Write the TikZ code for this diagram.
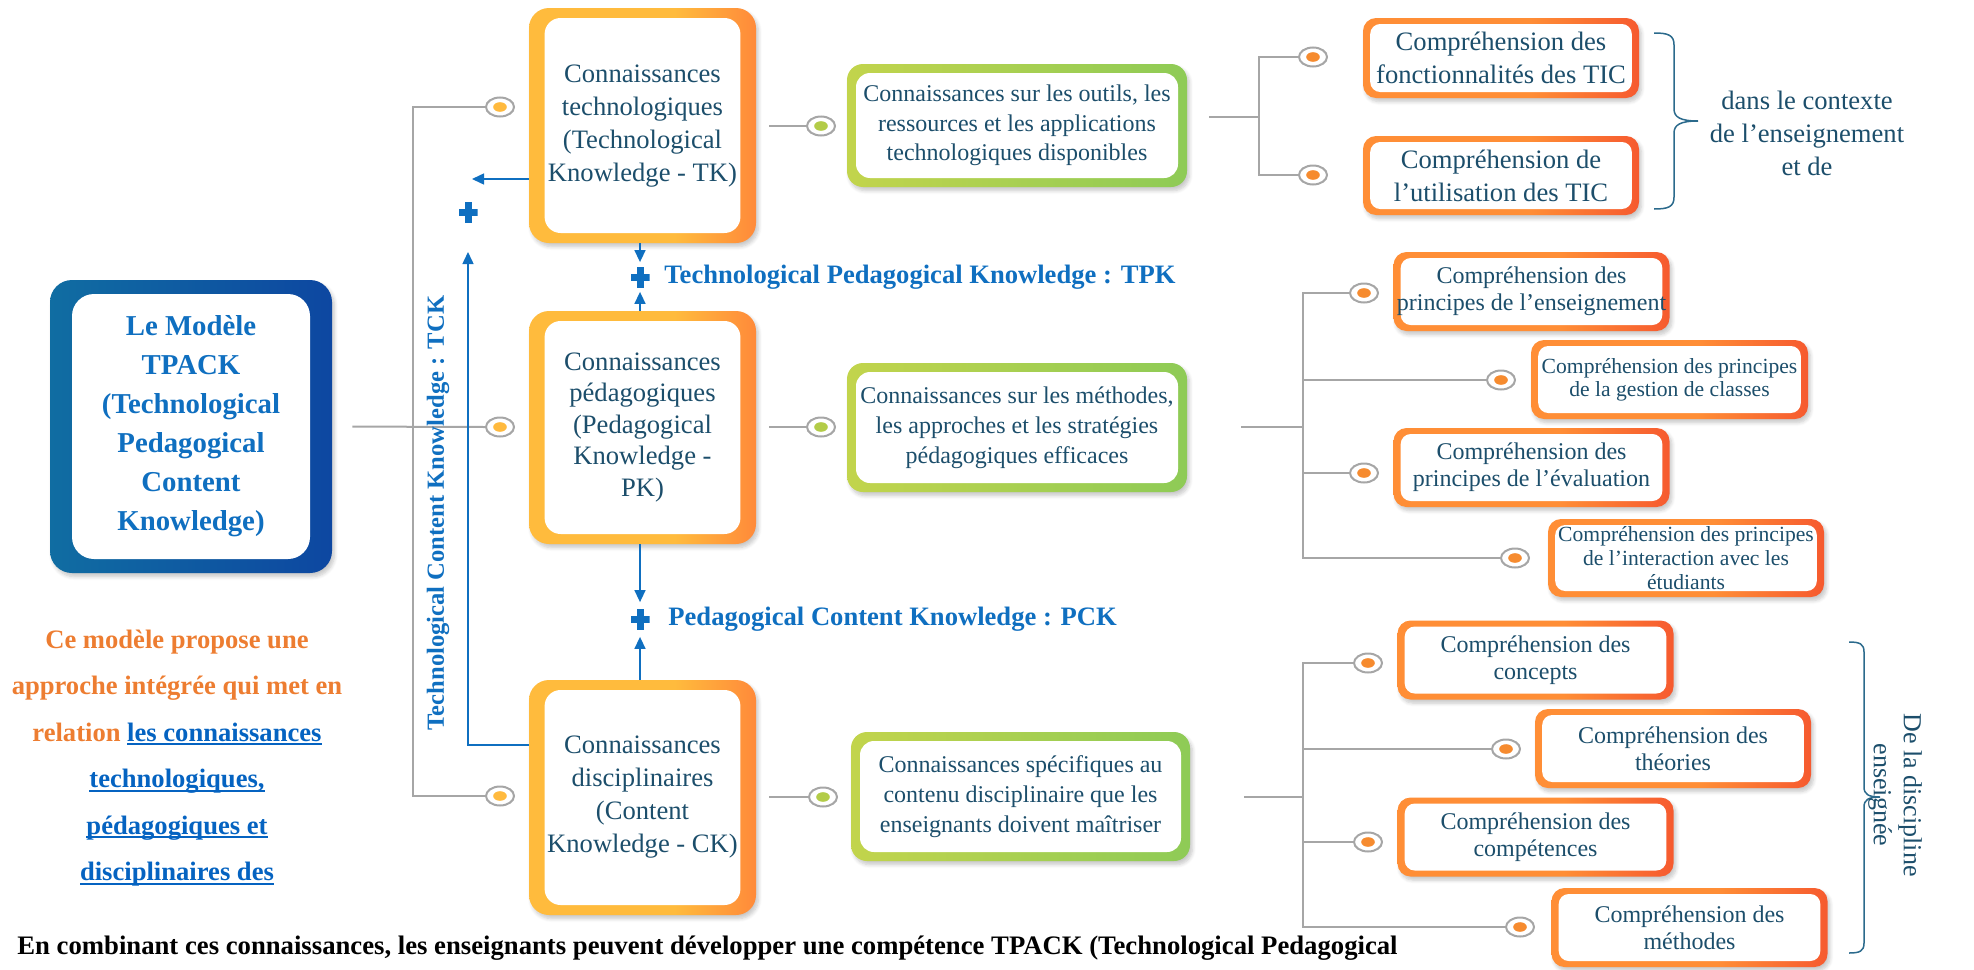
\documentclass[tikz,border=0pt]{standalone}
\usepackage{fontspec}
\setmainfont{Liberation Serif}
\usetikzlibrary{shapes.geometric,arrows.meta,shadows.blur}

% palette
\definecolor{ink}{HTML}{1C4E6B}
\definecolor{linegray}{HTML}{A6A6A6}
\definecolor{tpblue}{HTML}{0F6FC0}
\definecolor{orangeT}{HTML}{ED7D31}
\definecolor{linkblue}{HTML}{0563C1}
\definecolor{mainL}{HTML}{106DA2}
\definecolor{mainR}{HTML}{0D47A1}
\definecolor{amberL}{HTML}{FFBB3D}
\definecolor{amberR}{HTML}{FF8A3A}
\definecolor{greenL}{HTML}{C2D44C}
\definecolor{greenR}{HTML}{8ECB56}
\definecolor{chL}{HTML}{FF8E36}
\definecolor{chR}{HTML}{F65A2F}
\definecolor{dotAmber}{HTML}{FFBA3E}
\definecolor{dotGreen}{HTML}{B3CC48}
\definecolor{dotOrange}{HTML}{F68B2F}
\definecolor{bracec}{HTML}{2B6A8C}

\pgfdeclarehorizontalshading{bigorange}{100bp}{color(0bp)=(amberL); color(25bp)=(amberL); color(57bp)=(amberL); color(75bp)=(amberR); color(100bp)=(amberR)}
\pgfdeclarehorizontalshading{smallorange}{100bp}{color(0bp)=(chL); color(25bp)=(chL); color(55bp)=(chL); color(75bp)=(chR); color(100bp)=(chR)}

% underlined link-style words
\newcommand\lnk[1]{{\color{linkblue}\setbox0=\hbox{#1}\rlap{\rule[-2pt]{\wd0}{1pt}}\box0}}

\tikzset{
  inset/.style n args={3}{path picture={\fill[white,rounded corners=#3]
      ([shift={(#1,-#2)}]path picture bounding box.north west) rectangle
      ([shift={(-#1,#2)}]path picture bounding box.south east);}},
  softshadow/.style={blur shadow={shadow xshift=1.2pt, shadow yshift=-1.8pt, shadow opacity=22, shadow blur steps=6}},
  modelbox/.style={rounded corners=11pt, inner sep=0pt, align=center, left color=mainL, right color=mainR,
      inset={11pt}{7pt}{11pt}, text=tpblue, font=\bfseries\fontsize{14.4}{19.5}\selectfont, softshadow},
  kbox/.style={rounded corners=10pt, inner sep=0pt, align=center, shade, shading=bigorange,
      inset={7.8pt}{5pt}{8pt}, text=ink, font=\fontsize{13.3}{16.5}\selectfont, minimum width=113.5pt, softshadow},
  gbox/.style={rounded corners=8pt, inner sep=0pt, align=center, left color=greenL, right color=greenR,
      inset={4.5pt}{4.5pt}{7pt}, text=ink, font=\fontsize{12}{14.75}\selectfont, minimum width=170pt, minimum height=63pt, softshadow},
  cbox/.style={rounded corners=6.5pt, inner sep=0pt, align=center, shade, shading=smallorange,
      inset={3.6pt}{3pt}{5pt}, text=ink, font=\fontsize{12}{13.5}\selectfont, minimum width=138pt, minimum height=39.5pt, softshadow},
  bub/.style={ellipse, draw=linegray, line width=1pt, fill=white, inner sep=0pt, minimum width=14pt, minimum height=9.5pt,
      path picture={\fill[#1] (path picture bounding box.center) ellipse [x radius=3.4pt, y radius=2.4pt];}},
  gline/.style={draw=linegray, line width=1pt},
  barrow/.style={draw=tpblue, line width=0.75pt, -{Triangle[length=6pt,width=5.5pt]}},
  plusmark/.style={inner sep=0pt, minimum width=9.5pt, minimum height=10.5pt,
      path picture={\fill[tpblue] ([xshift=-1.75pt]path picture bounding box.north) rectangle ([xshift=1.75pt]path picture bounding box.south);
                    \fill[tpblue] ([yshift=1.75pt]path picture bounding box.west) rectangle ([yshift=-1.75pt]path picture bounding box.east);}},
  lbl/.style={text=tpblue, font=\bfseries\fontsize{13.3}{16}\selectfont, inner sep=0pt},
}

\begin{document}
\begin{tikzpicture}[x=0.5pt,y=-0.5pt]
\useasboundingbox (0,0) rectangle (1974,969);

% central model
\node[modelbox, minimum width=141pt, minimum height=146.5pt] (model) at (191,426.5)
  {Le Modèle\\TPACK\\(Technological\\Pedagogical\\Content\\Knowledge)};

% three knowledge domains
\node[kbox, minimum height=117.5pt] (TK) at (642.5,125.5)
  {\raisebox{3.5pt}{\begin{tabular}{@{}c@{}}Connaissances\\technologiques\\(Technological\\Knowledge - TK)\end{tabular}}};
\node[kbox, minimum height=116.5pt, font=\fontsize{13.3}{15.75}\selectfont] (PK) at (642.5,427.5)
  {Connaissances\\pédagogiques\\(Pedagogical\\Knowledge -\\PK)};
\node[kbox, minimum height=117.5pt] (CK) at (642.5,797.5)
  {Connaissances\\disciplinaires\\(Content\\Knowledge - CK)};

% descriptions
\node[gbox, minimum height=61.5pt] (GT) at (1017,125.5)
  {Connaissances sur les outils, les\\ressources et les applications\\technologiques disponibles};
\node[gbox, minimum height=64.5pt, font=\fontsize{12}{15}\selectfont] (GP) at (1017,427.5)
  {Connaissances sur les méthodes,\\les approches et les stratégies\\pédagogiques efficaces};
\node[gbox, minimum width=169.5pt, minimum height=64.5pt, font=\fontsize{12}{15}\selectfont] (GC) at (1020.5,796.5)
  {Connaissances spécifiques au\\contenu disciplinaire que les\\enseignants doivent maîtriser};

% technological sub-items
\node[cbox, font=\fontsize{13.3}{16.5}\selectfont, minimum height=40pt] (T1) at (1501,58)
  {Compréhension des\\fonctionnalités des TIC};
\node[cbox, font=\fontsize{13.3}{16.5}\selectfont] (T2) at (1501,175.5)
  {Compréhension de\\l’utilisation des TIC};

% pedagogical sub-items
\node[cbox] (P1) at (1531.5,291.5) {Compréhension des\\principes de l’enseignement};
\node[cbox, minimum width=138.5pt, font=\fontsize{10.8}{11.5}\selectfont] (P2) at (1669.5,379.5)
  {Compréhension des principes\\de la gestion de classes};
\node[cbox] (P3) at (1531.5,467.5) {Compréhension des\\principes de l’évaluation};
\node[cbox, minimum height=39pt, font=\fontsize{10.8}{12}\selectfont] (P4) at (1686,558)
  {Compréhension des principes\\de l’interaction avec les\\étudiants};

% content sub-items
\node[cbox] (C1) at (1535.5,660) {Compréhension des\\concepts};
\node[cbox] (C2) at (1673,748.5) {Compréhension des\\théories};
\node[cbox] (C3) at (1535.5,837) {Compréhension des\\compétences};
\node[cbox] (C4) at (1689.5,927.5) {Compréhension des\\méthodes};

% bubbles
\node[bub=dotAmber] (bT) at (500,107) {};
\node[bub=dotAmber] (bP) at (500,427) {};
\node[bub=dotAmber] (bC) at (500,796) {};
\node[bub=dotGreen] (gT) at (821,126) {};
\node[bub=dotGreen] (gP) at (821,427) {};
\node[bub=dotGreen] (gC) at (823,797) {};
\node[bub=dotOrange] (t1) at (1313,57) {};
\node[bub=dotOrange] (t2) at (1313,175) {};
\node[bub=dotOrange] (p1) at (1364,293) {};
\node[bub=dotOrange] (p2) at (1501,380) {};
\node[bub=dotOrange] (p3) at (1364,473) {};
\node[bub=dotOrange] (p4) at (1515,558) {};
\node[bub=dotOrange] (c1) at (1368,663) {};
\node[bub=dotOrange] (c2) at (1506,749) {};
\node[bub=dotOrange] (c3) at (1368,842) {};
\node[bub=dotOrange] (c4) at (1520,927) {};

% junctions
\coordinate (bus) at (413,427);
\coordinate (j1) at (1259,117);
\coordinate (j2) at (1303,427);
\coordinate (j3) at (1303,797);

% gray tree
\draw[gline, shorten <=10pt] (model.east) -- (bP.west);
\draw[gline] (bT.west) -| (bus) |- (bC.west);
\draw[gline, shorten <=6.5pt] (TK.east |- gT.west) -- (gT.west);
\draw[gline, shorten <=6.5pt] (PK.east |- gP.west) -- (gP.west);
\draw[gline, shorten <=6.5pt] (CK.east |- gC.west) -- (gC.west);
\draw[gline, shorten <=11pt] (GT.east |- j1) -- (j1);
\draw[gline] (t1.west) -| (j1) |- (t2.west);
\draw[gline, shorten <=27pt] (GP.east |- j2) -- (j2);
\draw[gline] (p1.west) -| (j2) |- (p4.west);
\draw[gline] (j2 |- p2) -- (p2.west);
\draw[gline] (j2 |- p3) -- (p3.west);
\draw[gline, shorten <=27pt] (GC.east |- j3) -- (j3);
\draw[gline] (c1.west) -| (j3) |- (c4.west);
\draw[gline] (j3 |- c2) -- (c2.west);
\draw[gline] (j3 |- c3) -- (c3.west);

% intersections (plus marks, arrows, labels)
\node[plusmark] (pTPK) at (640,277) {};
\node[plusmark] (pPCK) at (640,619) {};
\node[plusmark] (pTCK) at (468,212) {};
\draw[barrow, shorten >=2pt] (TK.south -| pTPK) -- (pTPK.north);
\draw[barrow, shorten >=2pt] (PK.north -| pTPK) -- (pTPK.south);
\draw[barrow, shorten >=3pt] (PK.south -| pPCK) -- (pPCK.north);
\draw[barrow, shorten >=3.5pt] (CK.north -| pPCK) -- (pPCK.south);
\coordinate (tckhead) at (472,179);
\coordinate (tckfoot) at (468,745);
\coordinate (tcktip) at (468,252);
\draw[barrow] (TK.west |- tckhead) -- (tckhead);
\draw[barrow] (CK.west |- tckfoot) -- (tckfoot) -- (tcktip);

\node[lbl, anchor=west] (tpk) at (664,277) {Technological Pedagogical Knowledge : TPK};
\node[lbl, anchor=west] (pck) at (668,619) {Pedagogical Content Knowledge : PCK};
\node[lbl, rotate=90, font=\bfseries\fontsize{12.3}{14}\selectfont] (tck) at (438,513)
  {Technological Content Knowledge : TCK};

% braces and their notes
\draw[bracec, line width=0.75pt] (1654,33) .. controls (1668,33) and (1674,35) .. (1674,45) -- (1674,109)
  .. controls (1674,117) and (1680,121) .. (1698,121) .. controls (1680,121) and (1674,125) .. (1674,133)
  -- (1674,197) .. controls (1674,207) and (1668,209) .. (1654,209);
\node[font=\fontsize{13.3}{16.5}\selectfont, text=ink, align=center] (ctx) at (1807,133)
  {dans le contexte\\de l'enseignement\\et de};

\draw[bracec, line width=0.75pt] (1849,642) .. controls (1860,642) and (1864,644) .. (1864,652) -- (1864,787)
  .. controls (1864,794) and (1868,797) .. (1880,797) .. controls (1868,797) and (1864,800) .. (1864,807)
  -- (1864,943) .. controls (1864,951) and (1860,953) .. (1849,953);
\node[font=\fontsize{13}{15}\selectfont, text=ink, align=center, rotate=-90] (disc) at (1895,795)
  {De la discipline\\enseignée};

% left note and caption
\node[align=center, text=orangeT, font=\bfseries\fontsize{13.3}{23.25}\selectfont] (intro) at (177,758)
  {Ce modèle propose une\\approche intégrée qui met en\\relation \lnk{les connaissances}\\\lnk{technologiques,}\\\lnk{pédagogiques et}\\\lnk{disciplinaires des}};
\node[anchor=west, inner sep=0pt, font=\bfseries\fontsize{13.35}{15}\selectfont] (caption) at (17,948)
  {En combinant ces connaissances, les enseignants peuvent développer une compétence TPACK (Technological Pedagogical};
\end{tikzpicture}
\end{document}
